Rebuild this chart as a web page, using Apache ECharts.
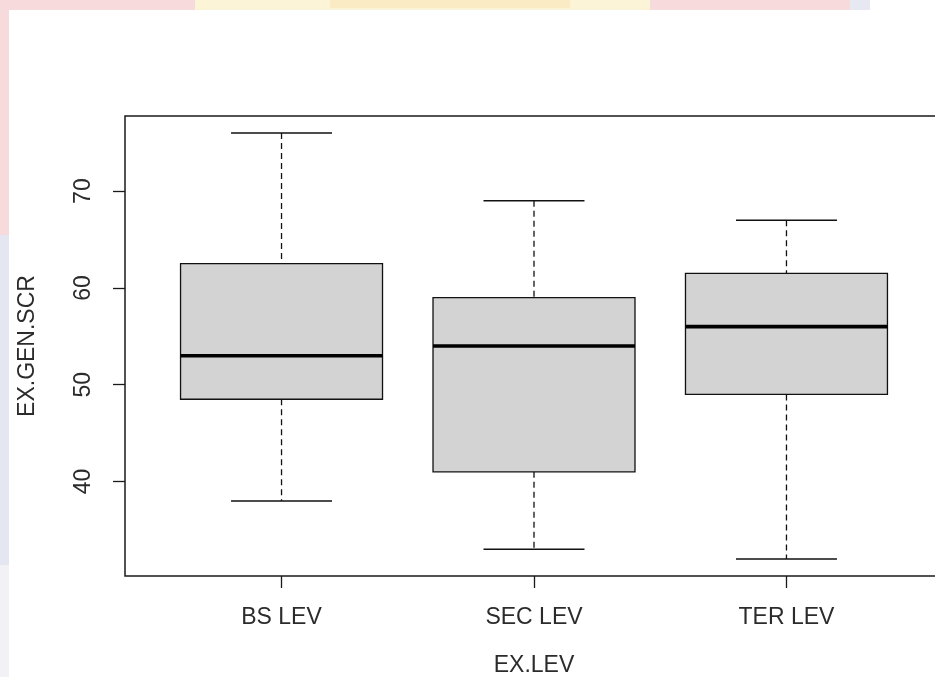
<!DOCTYPE html>
<html>
<head>
<meta charset="utf-8">
<script src="https://cdn.jsdelivr.net/npm/echarts@6/dist/echarts.min.js"></script>
<style>
  html, body { margin: 0; padding: 0; background: #ffffff; }
  #chart { width: 935px; height: 677px; }
</style>
</head>
<body>
<div id="chart"></div>
<script>
// Exam general score by exam level: five-number summaries per group
const categories = ['BS LEV', 'SEC LEV', 'TER LEV'];
const lowerWhisker = [38, 33, 32];
const lowerQuartile = [48.5, 41, 49];
const medianScore = [53, 54, 56];
const upperQuartile = [62.5, 59, 61.5];
const upperWhisker = [76, 69, 67];
const yTickValues = [40, 50, 60, 70];

const xName = 'EX.LEV';
const yName = 'EX.GEN.SCR';

const FONT = '"Liberation Sans", Arial, sans-serif';
const TEXT_COLOR = '#2b2b2b';

const boxData = categories.map((c, i) => [
  i + 1, lowerWhisker[i], lowerQuartile[i], medianScore[i], upperQuartile[i], upperWhisker[i]
]);

function renderBox(params, api) {
  const x = api.value(0);
  const lo = api.coord([x, api.value(1)]);
  const q1 = api.coord([x, api.value(2)]);
  const md = api.coord([x, api.value(3)]);
  const q3 = api.coord([x, api.value(4)]);
  const hi = api.coord([x, api.value(5)]);
  const halfBox = api.size([0.4, 0])[0];
  const halfCap = api.size([0.2, 0])[0];
  const cx = md[0];
  const stroke = '#111111';
  const dashed = { stroke: stroke, lineWidth: 1.3, lineDash: [6, 4] };
  const solid = { stroke: stroke, lineWidth: 1.5 };
  return {
    type: 'group',
    children: [
      { type: 'line', shape: { x1: cx, y1: hi[1], x2: cx, y2: q3[1] }, style: dashed },
      { type: 'line', shape: { x1: cx, y1: q1[1], x2: cx, y2: lo[1] }, style: dashed },
      { type: 'line', shape: { x1: cx - halfCap, y1: hi[1], x2: cx + halfCap, y2: hi[1] }, style: solid },
      { type: 'line', shape: { x1: cx - halfCap, y1: lo[1], x2: cx + halfCap, y2: lo[1] }, style: solid },
      {
        type: 'rect',
        shape: { x: cx - halfBox, y: q3[1], width: 2 * halfBox, height: q1[1] - q3[1] },
        style: { fill: '#d3d3d3', stroke: stroke, lineWidth: 1.3 }
      },
      {
        type: 'line',
        shape: { x1: cx - halfBox, y1: md[1], x2: cx + halfBox, y2: md[1] },
        style: { stroke: '#000000', lineWidth: 3.6 }
      }
    ]
  };
}

const chart = echarts.init(document.getElementById('chart'), null, { renderer: 'canvas' });

chart.setOption({
  backgroundColor: '#ffffff',
  animation: false,
  // faint page-edge tint around the plot sheet
  graphic: [
    { type: 'rect', z: -10, silent: true, shape: { x: 0, y: 0, width: 855, height: 10 }, style: { fill: '#f7dadb' } },
    { type: 'rect', z: -9, silent: true, shape: { x: 195, y: 0, width: 455, height: 10 }, style: { fill: '#fcf4d6' } },
    { type: 'rect', z: -8, silent: true, shape: { x: 330, y: 0, width: 240, height: 8 }, style: { fill: '#faebc4' } },
    { type: 'rect', z: -9, silent: true, shape: { x: 850, y: 0, width: 20, height: 10 }, style: { fill: '#e6e8f2' } },
    { type: 'rect', z: -10, silent: true, shape: { x: 0, y: 0, width: 9, height: 235 }, style: { fill: '#f7dadb' } },
    { type: 'rect', z: -10, silent: true, shape: { x: 0, y: 235, width: 9, height: 330 }, style: { fill: '#e4e6f1' } },
    { type: 'rect', z: -10, silent: true, shape: { x: 0, y: 565, width: 9, height: 112 }, style: { fill: '#f1f1f6' } }
  ],
  grid: {
    left: 125,
    top: 116,
    width: 818,
    height: 460,
    outerBoundsMode: 'none',
    containLabel: false,
    show: true,
    borderColor: '#1a1a1a',
    borderWidth: 1.5,
    backgroundColor: 'transparent'
  },
  xAxis: {
    type: 'value',
    min: 0.38,
    max: 3.62,
    name: xName,
    nameLocation: 'middle',
    nameGap: 78,
    nameTextStyle: { fontFamily: FONT, fontSize: 23, color: TEXT_COLOR },
    axisLine: { show: false },
    splitLine: { show: false },
    axisTick: {
      show: true,
      length: 12,
      customValues: [1, 2, 3],
      lineStyle: { color: '#1a1a1a', width: 1.3 }
    },
    axisLabel: {
      show: true,
      customValues: [1, 2, 3],
      margin: 30,
      fontFamily: FONT,
      fontSize: 23,
      color: TEXT_COLOR,
      formatter: v => categories[Math.round(v) - 1] || ''
    }
  },
  yAxis: {
    type: 'value',
    min: 30.24,
    max: 77.76,
    name: yName,
    nameLocation: 'middle',
    nameGap: 86,
    nameRotate: 90,
    nameTextStyle: { fontFamily: FONT, fontSize: 23, color: TEXT_COLOR },
    axisLine: { show: false },
    splitLine: { show: false },
    axisTick: {
      show: true,
      length: 12,
      customValues: yTickValues,
      lineStyle: { color: '#1a1a1a', width: 1.3 }
    },
    axisLabel: {
      show: true,
      customValues: yTickValues,
      rotate: 90,
      margin: 30,
      fontFamily: FONT,
      fontSize: 23,
      color: TEXT_COLOR
    }
  },
  series: [{
    type: 'custom',
    renderItem: renderBox,
    data: boxData,
    encode: { x: 0, y: [1, 2, 3, 4, 5] },
    clip: false
  }]
});
</script>
</body>
</html>
